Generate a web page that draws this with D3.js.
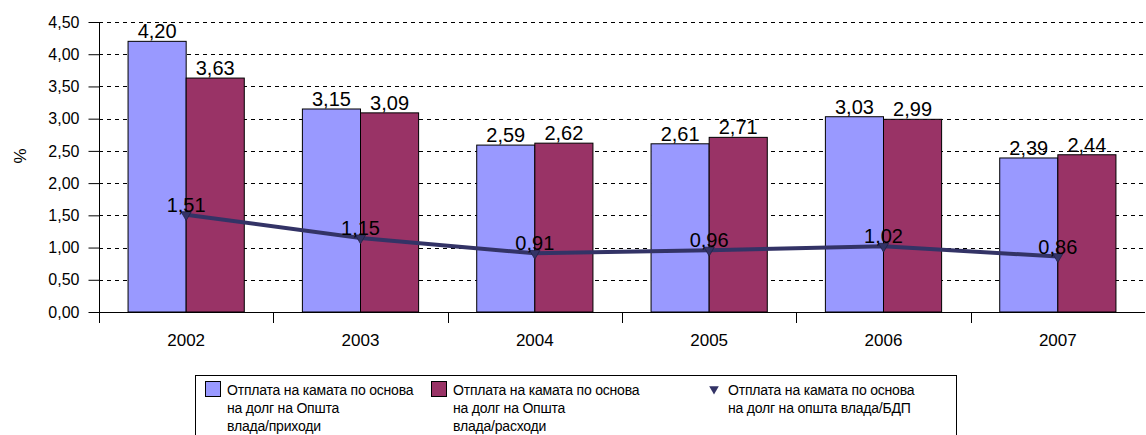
<!DOCTYPE html>
<html>
<head>
<meta charset="utf-8">
<script src="https://cdn.jsdelivr.net/npm/d3@7"></script>
<style>
  html, body { margin: 0; padding: 0; background: #fff; }
  svg { display: block; font-family: "Liberation Sans", Arial, sans-serif; }
</style>
</head>
<body>
<svg id="chart" width="1146" height="435"></svg>
<script>
// Interest payments on general government debt, 2002–2007 (%)
const years = ["2002", "2003", "2004", "2005", "2006", "2007"];
const toRevenue = [4.20, 3.15, 2.59, 2.61, 3.03, 2.39];
const toExpenditure = [3.63, 3.09, 2.62, 2.71, 2.99, 2.44];
const toGDP = [1.51, 1.15, 0.91, 0.96, 1.02, 0.86];
const yTicks = [0, 0.5, 1, 1.5, 2, 2.5, 3, 3.5, 4, 4.5];
const legendLabels = [
  ["Отплата на камата по основа", "на долг на Општа", "влада/приходи"],
  ["Отплата на камата по основа", "на долг на Општа", "влада/расходи"],
  ["Отплата на камата по основа", "на долг на општа влада/БДП"]
];

const colors = { rev: "#9999FF", exp: "#993366", gdp: "#333366" };
const fmt = v => v.toFixed(2).replace(".", ",");

const svg = d3.select("#chart");
const plot = { left: 99, right: 1145, top: 22, bottom: 312 };

const x = d3.scaleBand().domain(years).range([plot.left, plot.right]).paddingInner(0).paddingOuter(0);
const inner = d3.scaleBand().domain(["rev", "exp"]).range([0, x.bandwidth()]).paddingInner(0).paddingOuter(0.5);
const y = d3.scaleLinear().domain([0, 4.5]).range([plot.bottom, plot.top]);

// horizontal dashed gridlines
svg.append("g")
  .selectAll("line")
  .data(yTicks.filter(d => d > 0))
  .join("line")
  .attr("x1", plot.left).attr("x2", plot.right)
  .attr("y1", d => Math.round(y(d)) + 0.5).attr("y2", d => Math.round(y(d)) + 0.5)
  .attr("stroke", "#000").attr("stroke-width", 1)
  .attr("stroke-dasharray", "4,4");

// bars
const groups = svg.append("g").selectAll("g")
  .data(years)
  .join("g")
  .attr("transform", d => `translate(${x(d)},0)`);

groups.each(function (yr, i) {
  const g = d3.select(this);
  const vals = [["rev", toRevenue[i]], ["exp", toExpenditure[i]]];
  g.selectAll("rect")
    .data(vals)
    .join("rect")
    .attr("x", d => inner(d[0]))
    .attr("y", d => y(d[1]))
    .attr("width", inner.bandwidth())
    .attr("height", d => y(0) - y(d[1]))
    .attr("fill", d => colors[d[0]])
    .attr("stroke", "#000").attr("stroke-width", 1);
  g.selectAll("text")
    .data(vals)
    .join("text")
    .attr("x", d => inner(d[0]) + inner.bandwidth() / 2)
    .attr("y", d => y(d[1]) - 3)
    .attr("text-anchor", "middle")
    .attr("font-size", 20)
    .attr("fill", "#000")
    .text(d => fmt(d[1]));
});

// y axis
const yAxis = svg.append("g").attr("transform", `translate(${plot.left + 0.5},0)`)
  .call(d3.axisLeft(y).tickValues(yTicks).tickSize(11).tickPadding(9).tickFormat(fmt));
yAxis.select(".domain").remove();
yAxis.selectAll(".tick line").attr("stroke", "#000");
yAxis.selectAll(".tick text").attr("font-size", 16).attr("fill", "#000")
  .attr("font-family", "Liberation Sans, Arial, sans-serif");
svg.append("line")
  .attr("x1", plot.left + 0.5).attr("x2", plot.left + 0.5)
  .attr("y1", plot.top).attr("y2", plot.bottom + 11)
  .attr("stroke", "#000");

// x axis (category boundaries as ticks)
svg.append("line")
  .attr("x1", plot.left).attr("x2", plot.right)
  .attr("y1", plot.bottom + 0.5).attr("y2", plot.bottom + 0.5)
  .attr("stroke", "#000");
svg.append("g").selectAll("line")
  .data(years.slice(1))
  .join("line")
  .attr("x1", d => Math.round(x(d)) + 0.5).attr("x2", d => Math.round(x(d)) + 0.5)
  .attr("y1", plot.bottom).attr("y2", plot.bottom + 11)
  .attr("stroke", "#000");
svg.append("g").selectAll("text")
  .data(years)
  .join("text")
  .attr("x", d => x(d) + x.bandwidth() / 2)
  .attr("y", 346)
  .attr("text-anchor", "middle")
  .attr("font-size", 17)
  .text(d => d);

// y axis title
svg.append("text")
  .attr("transform", "translate(26,156) rotate(-90)")
  .attr("text-anchor", "middle")
  .attr("font-size", 17)
  .text("%");

// line series (share of GDP)
const cx = d => x(d) + x.bandwidth() / 2;
const line = d3.line().x((d, i) => cx(years[i])).y(d => y(d));
svg.append("path")
  .datum(toGDP)
  .attr("d", line)
  .attr("fill", "none")
  .attr("stroke", colors.gdp)
  .attr("stroke-width", 4);

const tri = d3.symbol().type(d3.symbolTriangle).size(45);
svg.append("g").selectAll("path")
  .data(toGDP)
  .join("path")
  .attr("d", tri)
  .attr("transform", (d, i) => `translate(${cx(years[i])},${y(d)}) rotate(180)`)
  .attr("fill", colors.gdp)
  .attr("stroke", "#222244").attr("stroke-width", 0.8);

svg.append("g").selectAll("text")
  .data(toGDP)
  .join("text")
  .attr("x", (d, i) => cx(years[i]))
  .attr("y", d => y(d) - 3)
  .attr("text-anchor", "middle")
  .attr("font-size", 20)
  .text(d => fmt(d));

// legend
const legend = svg.append("g");
legend.append("rect")
  .attr("x", 195.5).attr("y", 375.5)
  .attr("width", 761).attr("height", 80)
  .attr("fill", "#fff").attr("stroke", "#000").attr("stroke-width", 1);

const legendX = [205, 431, 708];
const legendKeys = ["rev", "exp", "gdp"];
legendKeys.forEach((k, i) => {
  const lx = legendX[i];
  if (k === "gdp") {
    legend.append("path")
      .attr("d", d3.symbol().type(d3.symbolTriangle).size(40))
      .attr("transform", `translate(${lx + 6},389) rotate(180)`)
      .attr("fill", colors.gdp);
  } else {
    legend.append("rect")
      .attr("x", lx + 0.5).attr("y", 381.5)
      .attr("width", 15).attr("height", 15)
      .attr("fill", colors[k]).attr("stroke", "#000");
  }
  const tx = k === "gdp" ? lx + 20 : lx + 22;
  const t = legend.append("text")
    .attr("x", tx).attr("y", 395)
    .attr("font-size", 14)
    .attr("letter-spacing", -0.2);
  legendLabels[i].forEach((s, j) => {
    t.append("tspan").attr("x", tx).attr("dy", j === 0 ? 0 : 18).text(s);
  });
});
</script>
</body>
</html>
